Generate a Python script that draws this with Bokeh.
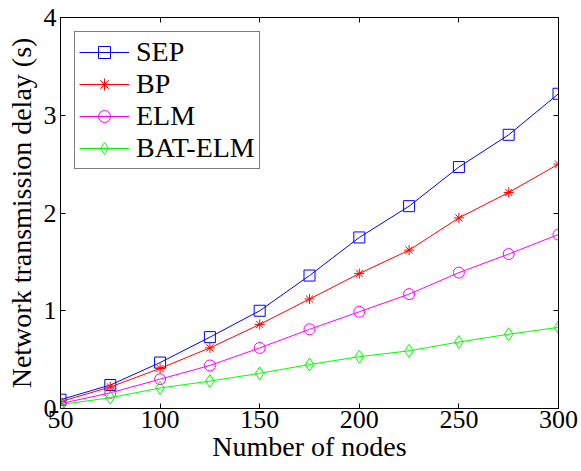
from bokeh.plotting import figure
from bokeh.models import LinearAxis, FixedTicker, Range1d, Legend, LegendItem
from bokeh.embed import file_html
from bokeh.resources import INLINE

nodes = [50, 75, 100, 125, 150, 175, 200, 225, 250, 275, 300]
sep = [0.09, 0.24, 0.47, 0.73, 1.00, 1.36, 1.75, 2.07, 2.47, 2.80, 3.22]
bp = [0.07, 0.22, 0.41, 0.62, 0.86, 1.12, 1.38, 1.62, 1.95, 2.21, 2.50]
elm = [0.05, 0.16, 0.30, 0.44, 0.62, 0.81, 0.99, 1.17, 1.39, 1.58, 1.78]
bat_elm = [0.04, 0.11, 0.21, 0.28, 0.36, 0.45, 0.53, 0.59, 0.68, 0.76, 0.83]
x_ticks = [50, 100, 150, 200, 250, 300]
y_ticks = [0, 1, 2, 3, 4]

FONT = "Liberation Serif"

p = figure(width=581, height=471, output_backend="svg", toolbar_location=None,
           x_range=Range1d(50, 300), y_range=Range1d(0, 4),
           min_border_left=60, min_border_right=23, min_border_top=17, min_border_bottom=63)
p.background_fill_color = "white"
p.border_fill_color = "white"
p.outline_line_color = "black"
p.outline_line_width = 1
p.grid.visible = False

def style_axis(ax, show_labels=True):
    ax.major_tick_in = 5
    ax.major_tick_out = 0
    ax.minor_tick_in = 0
    ax.minor_tick_out = 0
    ax.axis_line_color = "black"
    ax.major_tick_line_color = "black"
    ax.major_label_text_font = FONT
    ax.major_label_text_font_size = "26px"
    ax.major_label_text_color = "black" if show_labels else None
    ax.axis_label_text_font = FONT
    ax.axis_label_text_font_size = "28px"
    ax.axis_label_text_font_style = "normal"
    ax.axis_label_text_color = "black"

p.xaxis.ticker = FixedTicker(ticks=x_ticks)
p.yaxis.ticker = FixedTicker(ticks=y_ticks)
p.xaxis.axis_label = "Number of nodes"
p.yaxis.axis_label = "Network transmission delay (s)"
p.xaxis.major_label_standoff = 2
p.yaxis.major_label_standoff = 4
p.xaxis.axis_label_standoff = 0
p.yaxis.axis_label_standoff = 4
style_axis(p.xaxis[0])
style_axis(p.yaxis[0])

top = LinearAxis(ticker=FixedTicker(ticks=x_ticks))
style_axis(top, False)
top.major_label_text_font_size = "0px"
right = LinearAxis(ticker=FixedTicker(ticks=y_ticks))
style_axis(right, False)
right.major_label_text_font_size = "0px"
p.add_layout(top, "above")
p.add_layout(right, "right")

items = []
specs = [
    ("SEP", sep, "#0000ff", "square", 11),
    ("BP", bp, "#ff0000", "asterisk", 10),
    ("ELM", elm, "#ff00ff", "circle", 11),
    ("BAT-ELM", bat_elm, "#00ff00", "diamond", 13),
]
for name, ys, col, mk, sz in specs:
    r1 = p.line(nodes, ys, line_color=col, line_width=1)
    r2 = p.scatter(nodes, ys, marker=mk, size=sz, line_color=col, fill_color=None, line_width=1)
    items.append(LegendItem(label=name, renderers=[r1, r2]))

legend = Legend(items=items, location="top_left")
legend.label_text_font = FONT
legend.label_text_font_size = "28px"
legend.label_text_color = "black"
legend.border_line_color = "black"
legend.border_line_width = 1
legend.background_fill_alpha = 1
legend.glyph_width = 50
legend.glyph_height = 30
legend.label_height = 30
legend.spacing = 0
legend.padding = 4
legend.margin = 14
legend.label_standoff = 7
p.add_layout(legend)

open("out.html", "w").write(file_html(p, INLINE))
